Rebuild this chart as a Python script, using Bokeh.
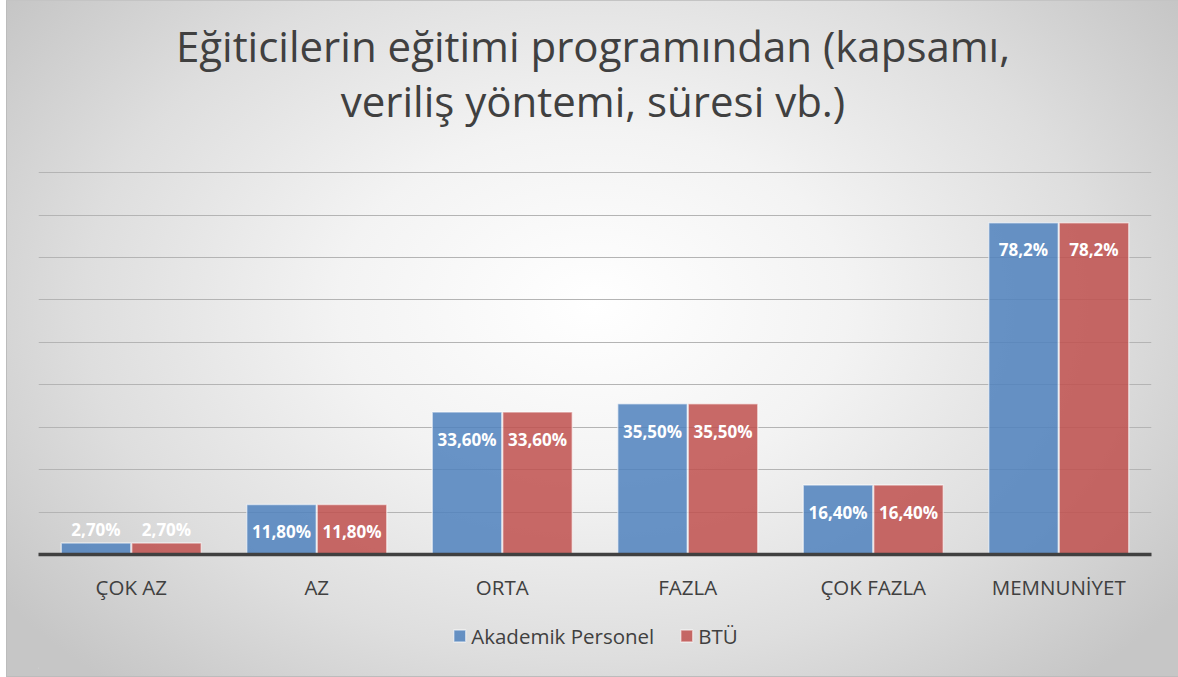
import numpy as np
from bokeh.plotting import figure
from bokeh.layouts import column
from bokeh.models import (FactorRange, Range1d, ColumnDataSource, LabelSet, Div,
                          SingleIntervalTicker, Legend, LegendItem)
from bokeh.core.properties import value
from bokeh.transform import dodge
from bokeh.embed import file_html
from bokeh.resources import INLINE

categories = ["ÇOK AZ", "AZ", "ORTA", "FAZLA", "ÇOK FAZLA", "MEMNUNİYET"]
akademik = [2.70, 11.80, 33.60, 35.50, 16.40, 78.2]
btu = [2.70, 11.80, 33.60, 35.50, 16.40, 78.2]
akademik_labels = ["2,70%", "11,80%", "33,60%", "35,50%", "16,40%", "78,2%"]
btu_labels = ["2,70%", "11,80%", "33,60%", "35,50%", "16,40%", "78,2%"]
series_names = ["Akademik Personel", "BTÜ"]
title_lines = ["Eğiticilerin eğitimi programından (kapsamı,", "veriliş yöntemi, süresi vb.)"]

FONT = "Open Sans"
BLUE = "#4F81BD"
RED = "#C0504D"
W = 1172
FW, FH = 1113, 384
BAR_STYLE = dict(fill_alpha=0.85, line_color="white", line_alpha=0.55, line_width=1.5)

a = np.array(akademik)
b = np.array(btu)
def label_y(v):
    return np.where(v - 6.4 < 3, v + 3.2, v - 6.4)

src = ColumnDataSource(dict(cat=categories, a=a, b=b,
                            a_lab=akademik_labels, b_lab=btu_labels,
                            a_y=label_y(a), b_y=label_y(b)))

title_div = Div(
    text='<div style="width:%dpx;padding-top:17px;text-align:center;font-family:\'Open Sans\';'
         'font-size:42px;line-height:55px;color:#404040;white-space:nowrap;">' % W
         + "<br>".join(title_lines) + "</div>",
    width=W, height=150, margin=0)

p = figure(x_range=FactorRange(*categories), y_range=Range1d(0, 90.5),
           frame_width=FW, frame_height=FH, output_backend="svg", toolbar_location=None,
           min_border_left=31, min_border_right=28, min_border_top=19, min_border_bottom=47,
           margin=0)
p.background_fill_alpha = 0
p.border_fill_alpha = 0
p.outline_line_color = None

bw = 0.375
p.vbar(x=dodge("cat", -0.19, range=p.x_range), top="a", width=bw, source=src,
       fill_color=BLUE, **BAR_STYLE)
p.vbar(x=dodge("cat", 0.19, range=p.x_range), top="b", width=bw, source=src,
       fill_color=RED, **BAR_STYLE)

for xo, ycol, lcol in [(-0.19, "a_y", "a_lab"), (0.19, "b_y", "b_lab")]:
    p.add_layout(LabelSet(x=dodge("cat", xo, range=p.x_range), y=ycol, text=lcol, source=src,
                          text_align="center", text_baseline="middle", text_color="white",
                          text_font=value(FONT), text_font_style="bold", text_font_size="17px"))

p.yaxis.visible = False
p.ygrid.ticker = SingleIntervalTicker(interval=10)
p.ygrid.grid_line_color = "#b4b4b4"
p.ygrid.grid_line_width = 1
p.xgrid.grid_line_color = None

ax = p.xaxis[0]
ax.axis_line_color = "#404040"
ax.axis_line_width = 3.5
ax.major_tick_line_color = None
ax.minor_tick_line_color = None
ax.major_label_text_font = FONT
ax.major_label_text_font_size = "20.5px"
ax.major_label_text_color = "#404040"
ax.major_label_standoff = 12

# legend strip (its own small figure, legend drawn inside its frame)
lg = figure(width=W, height=73, x_range=Range1d(0, 1), y_range=Range1d(0, 1),
            output_backend="svg", toolbar_location=None, x_axis_location=None,
            y_axis_location=None, min_border_left=31, min_border_right=28,
            min_border_top=0, min_border_bottom=8, margin=0)
lg.background_fill_alpha = 0
lg.border_fill_alpha = 0
lg.outline_line_color = None
lg.grid.visible = False
# legend proxies: one zero-height bar each, outside the visible range
la = lg.vbar(x=[-1], top=[0], width=0.1, fill_color=BLUE, **BAR_STYLE)
lb = lg.vbar(x=[-1], top=[0], width=0.1, fill_color=RED, **BAR_STYLE)
legend = Legend(items=[LegendItem(label=series_names[0], renderers=[la]),
                       LegendItem(label=series_names[1], renderers=[lb])],
                orientation="horizontal", location="center",
                label_text_font=FONT, label_text_font_size="20.5px", label_text_color="#404040",
                glyph_width=15, glyph_height=15, label_standoff=5, spacing=24,
                background_fill_alpha=0, border_line_color=None, margin=0, padding=2)
lg.add_layout(legend)

layout = column(title_div, p, lg, margin=(0, 0, 0, 6), spacing=0,
                styles={"background": "radial-gradient(ellipse 62% 75% at 50% 45%, #ffffff 0%, #f3f3f3 35%, #dedede 70%, #c6c6c6 100%)",
                        "border-left": "1px solid #bcbcbc", "border-top": "1px solid #c4c4c4",
                        "border-bottom": "1px solid #bcbcbc"})

open("out.html", "w").write(file_html(layout, INLINE))
